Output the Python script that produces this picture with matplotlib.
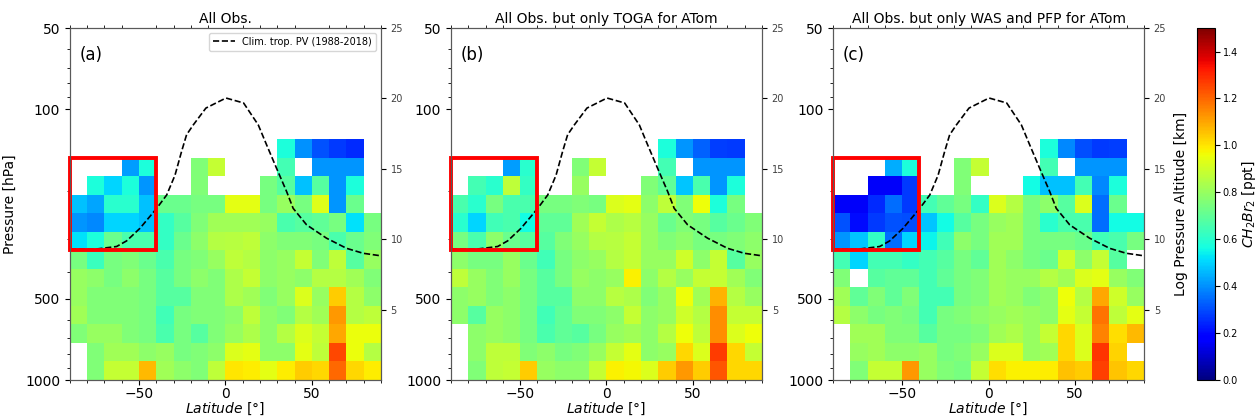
import numpy as np
import matplotlib
matplotlib.use('Agg')
import matplotlib.pyplot as plt
from matplotlib.ticker import FixedLocator, NullFormatter, MultipleLocator
from matplotlib.patches import Rectangle

nan = np.nan

# bin edges
lat_edges = np.arange(-90, 91, 10)
p_edges = [1000, 854.1, 729.5, 623.1, 532.2, 454.5, 388.2, 331.6, 283.2, 241.9, 206.6, 176.5, 150.7, 128.7]

# CH2Br2 [ppt], rows from the lowest pressure bin (1000 hPa) upwards
all_obs = [
    [nan, .76, .88, .88, 1.07, .82, .78, .76, .87, 1.0, .99, .94, .99, 1.04, 1.02, 1.2, 1.02, .99],
    [nan, .76, .82, .82, .78, .8, .74, .76, .78, .92, .94, .78, .78, .94, .87, 1.25, .95, .85],
    [.76, .8, .8, .76, .74, .66, .74, .68, .76, .8, .84, .78, .85, .92, .88, 1.1, .95, .95],
    [.82, .76, .76, .76, .74, .64, .74, .76, .76, .78, .87, .78, .76, .85, .82, 1.12, .85, .87],
    [.8, .76, .76, .76, .74, .68, .68, .76, .76, .84, .82, .76, .8, .92, .8, 1.04, .85, .78],
    [.8, .78, .74, .78, .74, .68, .74, .78, .76, .84, .88, .78, .8, .78, .85, .85, .82, .76],
    [.74, .63, .74, .76, .72, .66, .74, .76, .8, .87, .85, .78, .8, .88, .76, .87, .68, .8],
    [.52, .58, .72, .66, .66, .62, .72, .78, .85, .86, .87, .78, .76, .76, .74, .66, .72, .76],
    [.41, .39, .5, .5, .47, .62, .68, .76, .82, .82, .82, .8, .66, .68, .7, .74, .52, .74],
    [.47, .43, .6, .6, .47, .72, .72, .74, .74, .94, .94, .74, .8, .74, .93, .41, .72, nan],
    [nan, .58, .5, .58, .41, nan, nan, .76, nan, nan, nan, .74, .68, .47, .68, .41, .58, nan],
    [nan, nan, nan, .42, .58, nan, nan, .76, .88, nan, nan, nan, .65, nan, .41, .41, .41, nan],
    [nan, nan, nan, nan, nan, nan, nan, nan, nan, nan, nan, nan, .58, .4, .31, .27, .25, nan],
]

only_toga = [
    [nan, .76, .87, .88, 1.04, .8, .78, .78, .88, .98, .97, .92, 1.04, 1.12, 1.04, 1.23, 1.02, 1.02],
    [nan, .78, .87, .87, .76, .78, .74, .76, .8, .88, .94, .78, .8, 1.02, .92, 1.27, 1.02, .88],
    [nan, .78, .8, .78, .74, .66, .7, .68, .74, .8, .82, .78, .85, .96, .87, 1.14, .92, .96],
    [.78, .68, .8, .78, .74, .64, .7, .76, .76, .78, .88, .78, .8, .9, .85, 1.14, .88, .88],
    [.78, .8, .76, .78, .74, .68, .68, .78, .78, .86, .84, .76, .8, .96, .82, 1.08, .85, .8],
    [.87, .8, .76, .8, .74, .68, .74, .8, .78, .8, .98, .78, .85, .8, .88, .88, .82, .76],
    [.78, .74, .74, .8, .72, .64, .74, .78, .8, .85, .88, .8, .8, .9, .78, .88, .68, .8],
    [.74, .66, .78, .72, .68, .68, .76, .8, .85, .86, .88, .8, .76, .78, .74, .74, .76, .78],
    [.6, .5, .64, .66, .56, .7, .7, .82, .88, .84, .86, .8, .72, .76, .74, .68, .72, .76],
    [.66, .6, .74, .66, .66, .74, .74, .76, .74, .92, .94, .78, .87, .76, .96, .58, .74, nan],
    [nan, .65, .6, .87, .62, nan, nan, .8, nan, nan, nan, .76, .7, .48, .66, .41, .58, nan],
    [nan, nan, nan, .42, .6, nan, nan, .76, .88, nan, nan, nan, .65, nan, .41, .41, .41, nan],
    [nan, nan, nan, nan, nan, nan, nan, nan, nan, nan, nan, nan, .58, .41, .33, .28, .27, nan],
]

only_was_pfp = [
    [nan, .76, .88, .88, 1.12, .8, .76, .74, .88, 1.01, .98, .98, .99, 1.06, 1.04, 1.26, 1.05, 1.02],
    [nan, .8, .82, .78, .78, .8, .74, .76, .8, .92, .92, .8, .82, 1.02, .92, 1.28, 1.03, nan],
    [nan, .82, .82, .76, .76, .68, .74, .74, .76, .82, .84, .8, .88, 1.02, .92, 1.16, 1.01, 1.07],
    [.85, .78, .74, .76, .74, .65, .74, .76, .78, .8, .82, .8, .78, .94, .88, 1.18, .87, .94],
    [.82, .7, .76, .7, .76, .65, .65, .74, .76, .82, .8, .76, .78, .96, .85, 1.1, .9, .8],
    [.76, nan, .68, .7, .7, .65, .7, .74, .76, .82, .8, .8, .85, .82, .92, .94, .8, .76],
    [.65, .5, .65, .65, .62, .65, .68, .74, .7, .82, .78, .74, .72, .9, .78, .88, .68, nan],
    [.41, .48, .62, .35, .5, .55, .64, .78, .74, .82, .82, .74, .74, .74, .72, .64, .66, .74],
    [.31, .2, .27, .31, .3, .48, .56, .68, .74, .8, .82, .74, .6, .66, .66, .35, .56, .56],
    [.16, .16, .25, .35, .27, .65, .7, .74, .62, .92, .85, .74, .78, .68, .92, .35, .72, nan],
    [nan, nan, .16, .16, .27, nan, nan, .76, nan, nan, nan, .56, .47, .47, .65, .39, .58, nan],
    [nan, nan, nan, .44, .58, nan, nan, .76, .88, nan, nan, nan, .65, nan, .41, .41, .41, nan],
    [nan, nan, nan, nan, nan, nan, nan, nan, nan, nan, nan, nan, .58, .39, .3, .27, .28, nan],
]

# climatological PV tropopause
trop_lat = [-90, -76.5, -63, -57.2, -49.5, -39.8, -34, -29.2, -25.4, -22.5, -18.6, -11.3, 0.3,
            10.5, 19, 23.8, 29.6, 35.4, 39.2, 47, 58.5, 70.1, 79.7, 89.4]
trop_p = [328, 329, 321, 306, 275, 232, 207, 175, 143, 124, 114, 98.8, 90.7,
          94.6, 114, 135, 165, 201, 232, 267, 299, 326, 340, 347]

titles = ['All Obs.', 'All Obs. but only TOGA for ATom', 'All Obs. but only WAS and PFP for ATom']
panel_labels = ['(a)', '(b)', '(c)']
datasets = [all_obs, only_toga, only_was_pfp]

fig = plt.figure(figsize=(12.58, 4.2), dpi=100)
lefts = [0.0556, 0.3585, 0.6622]

for i in range(3):
    ax = fig.add_axes([lefts[i], 0.0952, 0.2472, 0.838])
    data = np.ma.masked_invalid(np.array(datasets[i]))
    mesh = ax.pcolormesh(lat_edges, p_edges, data, cmap='jet', vmin=0, vmax=1.5)

    # southern high latitude box
    ax.add_patch(Rectangle((-90, p_edges[7]), 50, p_edges[12] - p_edges[7],
                           fill=False, edgecolor='red', lw=2.8, zorder=5, clip_on=False))

    ax.plot(trop_lat, trop_p, 'k--', lw=1.2, label='Clim. trop. PV (1988-2018)')

    ax.set_yscale('log')
    ax.set_ylim(1000, 50)
    ax.set_xlim(-90, 90)
    ax.yaxis.set_major_locator(FixedLocator([50, 100, 500, 1000]))
    ax.set_yticklabels(['50', '100', '500', '1000'])
    ax.yaxis.set_minor_locator(FixedLocator([60, 70, 80, 90, 200, 300, 400, 600, 700, 800, 900]))
    ax.yaxis.set_minor_formatter(NullFormatter())
    ax.xaxis.set_major_locator(FixedLocator([-50, 0, 50]))
    ax.xaxis.set_minor_locator(MultipleLocator(10))
    ax.tick_params(axis='x', which='minor', top=True, length=2)
    ax.tick_params(labelsize=10)
    ax.tick_params(axis='x', which='major', pad=1.5)
    for s in ax.spines.values():
        s.set_color('0.35')

    ax.set_title(titles[i], fontsize=10, pad=4)
    ax.set_xlabel(r'$Latitude$ [°]', fontsize=10, labelpad=0)
    ax.text(0.03, 0.95, panel_labels[i], transform=ax.transAxes, fontsize=12, va='top')
    if i == 0:
        ax.set_ylabel('Pressure [hPa]', fontsize=10)
        ax.yaxis.set_label_coords(-0.17, 0.5)
        ax.legend(loc='upper right', fontsize=7, handlelength=2.2)

    ax2 = ax.twinx()
    ax2.set_ylim(0, 25)
    ax2.set_yticks([5, 10, 15, 20, 25])
    ax2.tick_params(labelsize=7, labelcolor='0.25')
    for s in ax2.spines.values():
        s.set_color('0.35')
    if i == 2:
        ax2.set_ylabel('Log Pressure Altitude [km]', fontsize=10)
        ax2.yaxis.set_label_coords(1.097, 0.5)

cax = fig.add_axes([0.9515, 0.0952, 0.0143, 0.838])
cb = fig.colorbar(mesh, cax=cax, ticks=np.arange(0, 1.41, 0.2))
cb.ax.tick_params(labelsize=7, pad=2)
cb.set_label(r'$CH_2Br_2$ [ppt]', fontsize=10)
cb.ax.yaxis.set_label_coords(2.4, 0.5)

fig.savefig('out.png', dpi=100)
